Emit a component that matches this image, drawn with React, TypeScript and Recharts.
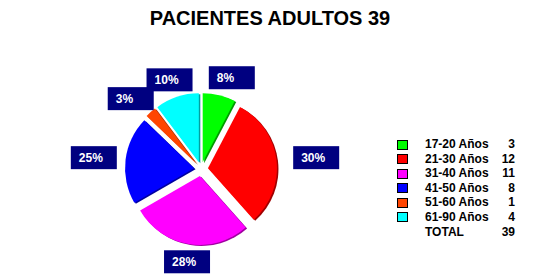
import React from 'react';
import { PieChart, Pie, Sector, Legend } from 'recharts';

const title = 'PACIENTES ADULTOS 39';
const categories = ['17-20 Años', '21-30 Años', '31-40 Años', '41-50 Años', '51-60 Años', '61-90 Años'];
const patients = [3, 12, 11, 8, 1, 4];
const percentLabels = ['8%', '30%', '28%', '25%', '3%', '10%'];
const totalLabel = 'TOTAL';
const totalValue = 39;

const COLORS = ['#00FF00', '#FF0000', '#FF00FF', '#0000FF', '#FF4500', '#00FFFF'];
const SHADES = ['#009A00', '#A00000', '#A000A0', '#0000A0', '#A02C00', '#00A0A0'];

const data = categories.map((name, i) => ({ name, value: patients[i] }));

const RAD = Math.PI / 180;
const EXPLODE = 7;
const FONT = '"Liberation Sans", Arial, sans-serif';

function ShadowSlice(props: any) {
  const { cx, cy, midAngle, startAngle, endAngle, outerRadius, index } = props;
  const c = Math.cos(-midAngle * RAD);
  const s = Math.sin(-midAngle * RAD);
  return (
    <Sector
      cx={cx + EXPLODE * c + 1.5}
      cy={cy + EXPLODE * s + 1}
      innerRadius={0}
      outerRadius={outerRadius}
      startAngle={startAngle}
      endAngle={endAngle}
      fill={SHADES[index]}
      stroke="none"
    />
  );
}

function SliceWithLabel(props: any) {
  const { cx, cy, midAngle, startAngle, endAngle, outerRadius, index } = props;
  const c = Math.cos(-midAngle * RAD);
  const s = Math.sin(-midAngle * RAD);
  const bx = cx + 112 * c + 4;
  const by = cy + 94 * s;
  return (
    <g>
      <Sector
        cx={cx + EXPLODE * c}
        cy={cy + EXPLODE * s}
        innerRadius={0}
        outerRadius={outerRadius}
        startAngle={startAngle}
        endAngle={endAngle}
        fill={COLORS[index]}
        stroke="none"
      />
      <rect x={bx - 23} y={by - 11.5} width={46} height={23} fill="#000080" />
      <text x={bx - 15} y={by + 4.5} fill="#FFFFFF" fontWeight="bold" fontSize={12} fontFamily={FONT}>
        {percentLabels[index]}
      </text>
    </g>
  );
}

function LegendContent() {
  const rows = categories.map((c, i) => ({ label: c, value: patients[i], color: COLORS[i] }));
  const rowStyle: React.CSSProperties = {
    position: 'relative',
    height: 14.6,
    fontFamily: FONT,
    fontWeight: 'bold',
    fontSize: 12,
    lineHeight: '14.6px',
    color: '#000',
    width: 118,
  };
  return (
    <div style={{ position: 'relative' }}>
      {rows.map((r, i) => (
        <div key={i} style={rowStyle}>
          <span
            style={{
              position: 'absolute',
              left: 0,
              top: 2.5,
              width: 9,
              height: 8,
              background: r.color,
              border: '1px solid #000',
            }}
          />
          <span style={{ position: 'absolute', left: 28 }}>{r.label}</span>
          <span style={{ position: 'absolute', right: 0 }}>{r.value}</span>
        </div>
      ))}
      <div style={rowStyle}>
        <span style={{ position: 'absolute', left: 28 }}>{totalLabel}</span>
        <span style={{ position: 'absolute', right: 0 }}>{totalValue}</span>
      </div>
    </div>
  );
}

export default function App() {
  return (
    <div style={{ position: 'absolute', left: 0, top: 0, width: 540, height: 278, background: '#fff' }}>
      <div
        style={{
          position: 'absolute',
          left: 0,
          top: 7,
          width: 540,
          textAlign: 'center',
          fontFamily: FONT,
          fontWeight: 'bold',
          fontSize: 20,
          lineHeight: '23px',
          color: '#000',
          zIndex: 2,
        }}
      >
        {title}
      </div>
      <PieChart width={540} height={278} margin={{ top: 0, right: 0, bottom: 0, left: 0 }}>
        <Pie
          data={data}
          dataKey="value"
          nameKey="name"
          cx={201}
          cy={169}
          outerRadius={69}
          startAngle={90}
          endAngle={-270}
          fill="transparent"
          stroke="none"
          label={ShadowSlice}
          labelLine={false}
          isAnimationActive={false}
        />
        <Pie
          data={data}
          dataKey="value"
          nameKey="name"
          cx={201}
          cy={169}
          outerRadius={69}
          startAngle={90}
          endAngle={-270}
          fill="transparent"
          stroke="none"
          label={SliceWithLabel}
          labelLine={false}
          isAnimationActive={false}
        />
        <Legend
          content={LegendContent}
          wrapperStyle={{ position: 'absolute', left: 397, top: 137, width: 118 }}
        />
      </PieChart>
    </div>
  );
}
